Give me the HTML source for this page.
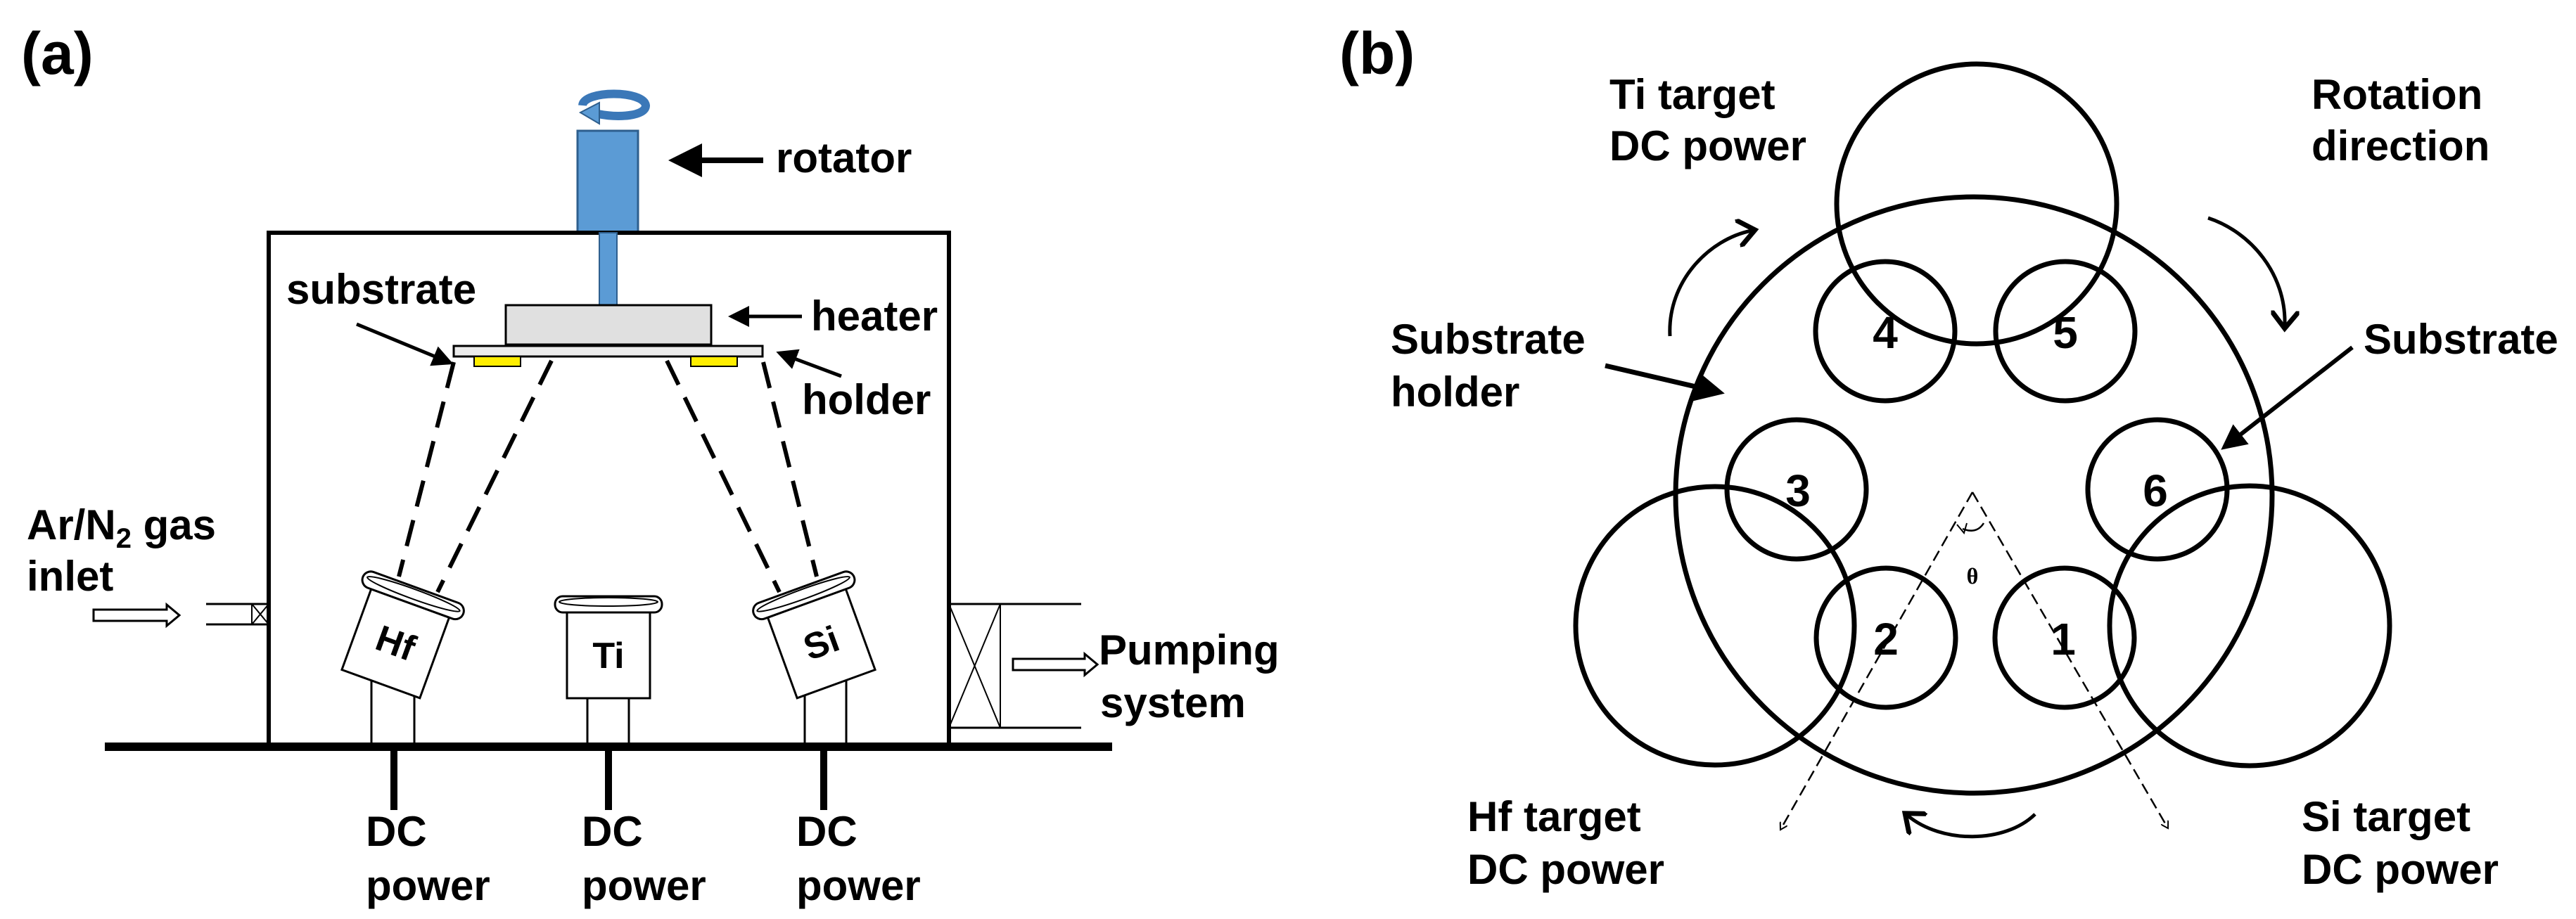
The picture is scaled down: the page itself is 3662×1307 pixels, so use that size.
<!DOCTYPE html>
<html><head><meta charset="utf-8"><style>
html,body{margin:0;padding:0;background:#fff;}
svg{display:block;}
text{font-family:"Liberation Sans",Arial,sans-serif;font-weight:bold;fill:#000;}
</style></head><body>
<svg width="3662" height="1307" viewBox="0 0 3662 1307" xmlns="http://www.w3.org/2000/svg">
<defs>
<marker id="ah" markerWidth="6" markerHeight="6" refX="5" refY="3" orient="auto" markerUnits="strokeWidth"><path d="M0,0 L6,3 L0,6 Z" fill="#000"/></marker>
<marker id="oh" markerWidth="12" markerHeight="12" refX="10" refY="6" orient="auto" markerUnits="userSpaceOnUse"><path d="M0,0 L10,6 L0,12" fill="none" stroke="#000" stroke-width="2"/></marker>
<marker id="ch" markerWidth="8" markerHeight="8" refX="4" refY="4" orient="auto" markerUnits="strokeWidth"><path d="M0,0 L5,4 L0,8" fill="none" stroke="#000" stroke-width="1.4"/></marker>
</defs>

<!-- ===== Panel (a) ===== -->
<text x="30" y="105" font-size="84">(a)</text>

<path d="M828,150 C830,128 915,128 918,150 C918,165 880,168 850,162" fill="none" stroke="#3b78b8" stroke-width="12"/>
<path d="M825,160 L852,146 L852,176 Z" fill="#5b9bd5" stroke="#2e5f8e" stroke-width="2"/>

<rect x="821" y="186" width="86" height="145" fill="#5b9bd5" stroke="#2e5f8e" stroke-width="3"/>
<rect x="382" y="331" width="967" height="729" fill="none" stroke="#000" stroke-width="6"/>
<rect x="852" y="331" width="25" height="103" fill="#5b9bd5" stroke="#2e5f8e" stroke-width="2"/>
<rect x="719" y="434" width="292" height="56" fill="#e0e0e0" stroke="#000" stroke-width="3"/>
<rect x="645" y="492" width="439" height="15" fill="#ececec" stroke="#000" stroke-width="3"/>
<rect x="674" y="507" width="66" height="14" fill="#ffee00" stroke="#000" stroke-width="2"/>
<rect x="982" y="507" width="66" height="14" fill="#ffee00" stroke="#000" stroke-width="2"/>

<line x1="1085" y1="228" x2="958" y2="228" stroke="#000" stroke-width="8" marker-end="url(#ah)"/>
<text x="1103" y="245" font-size="60">rotator</text>
<line x1="1140" y1="450" x2="1040" y2="450" stroke="#000" stroke-width="5" marker-end="url(#ah)"/>
<text x="1153" y="470" font-size="60">heater</text>
<text x="407" y="432" font-size="60">substrate</text>
<line x1="507" y1="461" x2="640" y2="516" stroke="#000" stroke-width="5" marker-end="url(#ah)"/>
<text x="1140" y="589" font-size="60">holder</text>
<line x1="1196" y1="535" x2="1108" y2="502" stroke="#000" stroke-width="5" marker-end="url(#ah)"/>

<g stroke="#000" stroke-width="6" stroke-dasharray="38,20" fill="none">
<line x1="645" y1="515" x2="567" y2="820"/>
<line x1="784" y1="513" x2="622" y2="842"/>
<line x1="948" y1="513" x2="1108" y2="842"/>
<line x1="1085" y1="515" x2="1161" y2="820"/>
</g>

<g stroke="#000" stroke-width="3" fill="#fff">
<rect x="528" y="930" width="61" height="130"/>
<rect x="835" y="990" width="59" height="70"/>
<rect x="1144" y="930" width="59" height="130"/>
</g>

<g transform="translate(566,905) rotate(20)">
<rect x="-59" y="-50" width="118" height="122" fill="#fff" stroke="#000" stroke-width="3"/>
<rect x="-76" y="-74" width="152" height="24" rx="12" fill="#fff" stroke="#000" stroke-width="3"/>
<ellipse cx="0" cy="-64" rx="70" ry="7" fill="none" stroke="#000" stroke-width="2"/>
<text x="0" y="28" font-size="52" text-anchor="middle">Hf</text>
</g>
<g transform="translate(865,932)">
<rect x="-59" y="-61" width="118" height="122" fill="#fff" stroke="#000" stroke-width="3"/>
<rect x="-76" y="-84" width="152" height="23" rx="11" fill="#fff" stroke="#000" stroke-width="3"/>
<ellipse cx="0" cy="-76" rx="70" ry="6" fill="none" stroke="#000" stroke-width="2"/>
<text x="0" y="18" font-size="52" text-anchor="middle">Ti</text>
</g>
<g transform="translate(1164,905) rotate(-20)">
<rect x="-59" y="-50" width="118" height="122" fill="#fff" stroke="#000" stroke-width="3"/>
<rect x="-76" y="-74" width="152" height="24" rx="12" fill="#fff" stroke="#000" stroke-width="3"/>
<ellipse cx="0" cy="-64" rx="70" ry="7" fill="none" stroke="#000" stroke-width="2"/>
<text x="0" y="28" font-size="52" text-anchor="middle">Si</text>
</g>

<rect x="149" y="1056" width="1432" height="12" fill="#000"/>
<rect x="555" y="1062" width="10" height="90" fill="#000"/>
<rect x="860" y="1062" width="10" height="90" fill="#000"/>
<rect x="1166" y="1062" width="10" height="90" fill="#000"/>
<g font-size="60">
<text x="520" y="1203">DC</text><text x="520" y="1280">power</text>
<text x="827" y="1203">DC</text><text x="827" y="1280">power</text>
<text x="1132" y="1203">DC</text><text x="1132" y="1280">power</text>
</g>

<text x="38" y="767" font-size="60">Ar/N<tspan font-size="40" dy="12">2</tspan><tspan dy="-12"> gas</tspan></text>
<text x="38" y="840" font-size="60">inlet</text>
<path d="M133,867 L237,867 L237,860 L255,875 L237,890 L237,883 L133,883 Z" fill="#fff" stroke="#000" stroke-width="3"/>
<line x1="293" y1="859" x2="382" y2="859" stroke="#000" stroke-width="3"/>
<line x1="293" y1="888" x2="382" y2="888" stroke="#000" stroke-width="3"/>
<line x1="358" y1="859" x2="358" y2="888" stroke="#000" stroke-width="2"/>
<line x1="358" y1="859" x2="382" y2="888" stroke="#000" stroke-width="2"/>
<line x1="358" y1="888" x2="382" y2="859" stroke="#000" stroke-width="2"/>

<line x1="1349" y1="859" x2="1537" y2="859" stroke="#000" stroke-width="3"/>
<line x1="1349" y1="1035" x2="1537" y2="1035" stroke="#000" stroke-width="3"/>
<line x1="1422" y1="859" x2="1422" y2="1035" stroke="#000" stroke-width="2"/>
<line x1="1349" y1="859" x2="1422" y2="1035" stroke="#000" stroke-width="2"/>
<line x1="1349" y1="1035" x2="1422" y2="859" stroke="#000" stroke-width="2"/>
<path d="M1440,937 L1542,937 L1542,930 L1560,945 L1542,960 L1542,953 L1440,953 Z" fill="#fff" stroke="#000" stroke-width="3"/>
<text x="1562" y="945" font-size="60">Pumping</text>
<text x="1564" y="1020" font-size="60">system</text>

<!-- ===== Panel (b) ===== -->
<text x="1904" y="105" font-size="84">(b)</text>
<g fill="none" stroke="#000" stroke-width="7">
<circle cx="2806" cy="704" r="424"/>
<circle cx="2810" cy="290" r="199"/>
<circle cx="2438" cy="890" r="198"/>
<circle cx="3198" cy="890" r="199"/>
<circle cx="2680" cy="471" r="99"/>
<circle cx="2936" cy="471" r="99"/>
<circle cx="2554" cy="696" r="99"/>
<circle cx="3067" cy="696" r="99"/>
<circle cx="2681" cy="907" r="99"/>
<circle cx="2935" cy="907" r="99"/>
</g>
<g font-size="64" text-anchor="middle">
<text x="2680" y="495">4</text><text x="2936" y="495">5</text>
<text x="2556" y="720">3</text><text x="3064" y="720">6</text>
<text x="2681" y="931">2</text><text x="2933" y="931">1</text>
</g>
<g stroke="#000" stroke-width="2.5" stroke-dasharray="16,8" fill="none">
<line x1="2804" y1="700" x2="2531" y2="1180" marker-end="url(#oh)"/>
<line x1="2804" y1="700" x2="3082" y2="1178" marker-end="url(#oh)"/>
</g>
<path d="M2790,752 Q2810,760 2820,744" fill="none" stroke="#000" stroke-width="2.5"/>
<path d="M2782,746 L2792,758 L2796,744" fill="none" stroke="#000" stroke-width="2"/>
<text x="2804" y="830" font-size="32" text-anchor="middle" style="font-family:'Liberation Serif',serif">θ</text>

<g fill="none" stroke="#000" stroke-width="5">
<path d="M2374,478 C2370,400 2430,340 2490,328" marker-end="url(#ch)"/>
<path d="M3139,310 C3200,330 3250,390 3248,462" marker-end="url(#ch)"/>
<path d="M2893,1158 C2850,1200 2760,1200 2712,1160" marker-end="url(#ch)"/>
</g>

<text x="2288" y="155" font-size="60">Ti target</text>
<text x="2288" y="228" font-size="60">DC power</text>
<text x="3286" y="155" font-size="60">Rotation</text>
<text x="3286" y="228" font-size="60">direction</text>
<text x="1977" y="503" font-size="60">Substrate</text>
<text x="1977" y="578" font-size="60">holder</text>
<line x1="2282" y1="520" x2="2445" y2="558" stroke="#000" stroke-width="7" marker-end="url(#ah)"/>
<text x="3360" y="503" font-size="60">Substrate</text>
<line x1="3344" y1="494" x2="3162" y2="636" stroke="#000" stroke-width="6" marker-end="url(#ah)"/>
<text x="2086" y="1182" font-size="60">Hf target</text>
<text x="2086" y="1257" font-size="60">DC power</text>
<text x="3272" y="1182" font-size="60">Si target</text>
<text x="3272" y="1257" font-size="60">DC power</text>
</svg>
</body></html>
